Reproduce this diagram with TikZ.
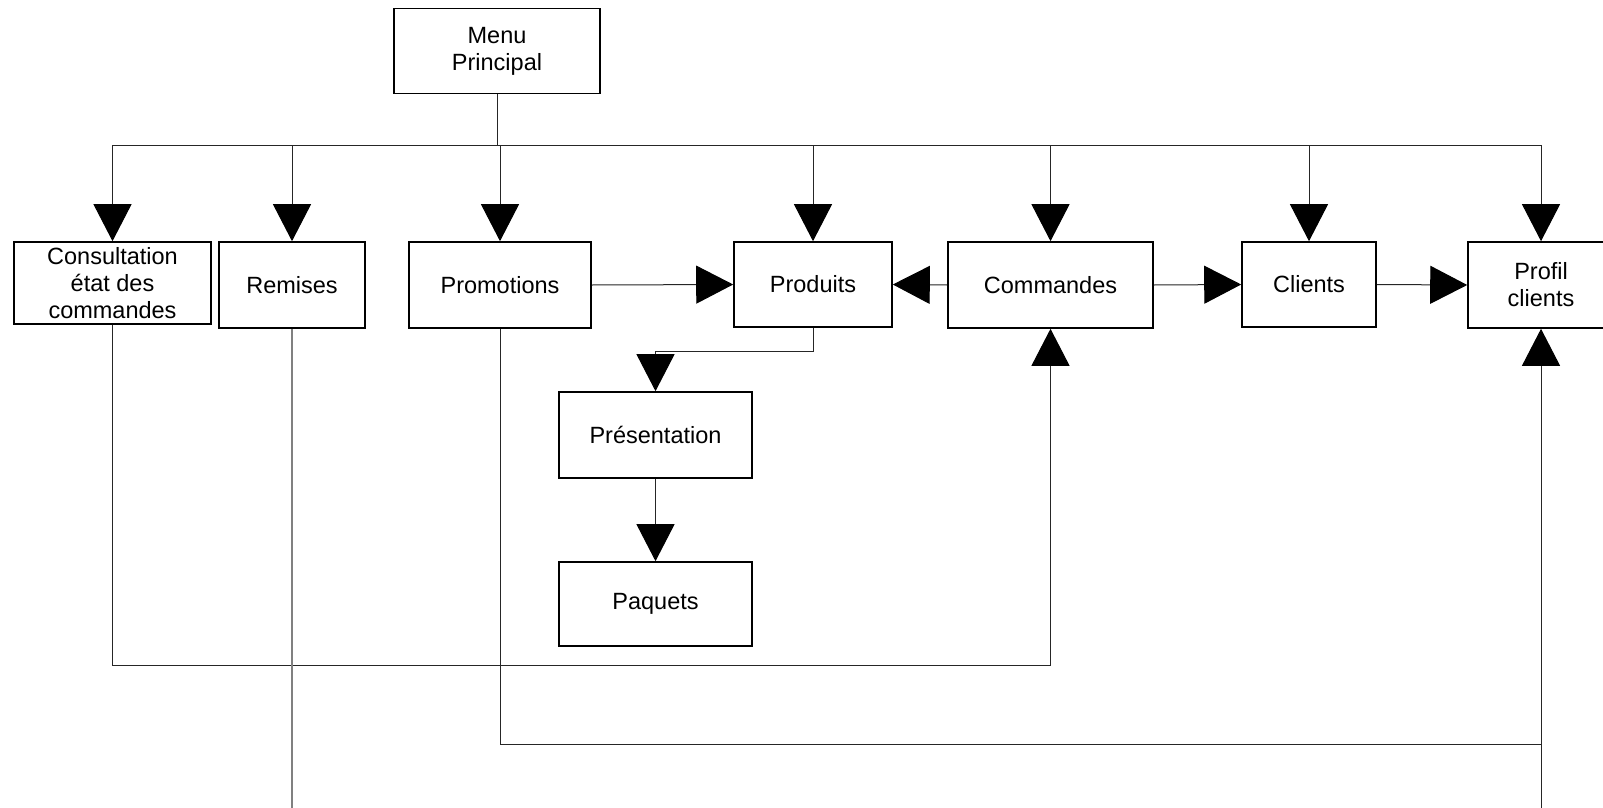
\documentclass[tikz,border=0pt]{standalone}
\usepackage{fontspec}
\setmainfont{Liberation Sans}
\usetikzlibrary{arrows.meta}

\tikzset{
  box/.style={draw=black, line width=1.6pt, fill=white, inner sep=0pt,
    align=center, font=\fontsize{23.5}{27}\selectfont},
  link/.style={draw=black!85, line width=1pt},
  fwd/.style={link, -{Triangle[length=37pt, width=38pt, color=black]}},
  faint/.style={draw=black!50, line width=1.3pt}
}

\begin{document}
\begin{tikzpicture}[x=1pt, y=1pt]
  \clip (0,0) rectangle (1603,-808);
  \fill[white] (0,0) rectangle (1603,-808);

  % boxes
  \node[box, minimum width=206pt, minimum height=85pt] (menu) at (497,-51) {Menu\\Principal};
  \node[box, minimum width=197pt, minimum height=82pt] (cons) at (112.5,-283) {Consultation\\état des\\commandes};
  \node[box, minimum width=146pt, minimum height=86pt] (rem) at (292,-285) {Remises};
  \node[box, minimum width=182pt, minimum height=86pt] (promo) at (500,-285) {Promotions};
  \node[box, minimum width=158pt, minimum height=85pt] (prod) at (813,-284.5) {Produits};
  \node[box, minimum width=205pt, minimum height=86pt] (cmd) at (1050.5,-285) {Commandes};
  \node[box, minimum width=134pt, minimum height=85pt] (cli) at (1309,-284.5) {Clients};
  \node[box, minimum width=146pt, minimum height=86pt] (prof) at (1541,-285) {Profil\\clients};
  \node[box, minimum width=193pt, minimum height=86pt] (pres) at (655.5,-435) {Présentation};
  \node[box, minimum width=193pt, minimum height=84pt] (paq) at (655.5,-604) {Paquets};

  % routing levels
  \coordinate (bus) at (0,-145);
  \coordinate (prodbend) at (0,-351);
  \coordinate (loopA) at (0,-665);
  \coordinate (loopB) at (0,-744);
  \coordinate (edge) at (0,-808);

  % main menu distribution bus
  \draw[link] (menu.south) -- (menu.south |- bus);
  \draw[link] (cons.north |- bus) -- (prof.north |- bus);
  \foreach \n in {cons, rem, promo, prod, cmd, cli, prof}
    \draw[fwd] (\n.north |- bus) -- (\n.north);

  % horizontal links between modules
  \draw[fwd] (promo.east) -- (prod.west);
  \draw[fwd] (cmd.west) -- (prod.east);
  \draw[fwd] (cmd.east) -- (cli.west);
  \draw[fwd] (cli.east) -- (prof.west);

  % products branch
  \draw[fwd] (prod.south) -- (prod.south |- prodbend) -- (pres.north |- prodbend) -- (pres.north);
  \draw[fwd] (pres.south) -- (paq.north);

  % return loops
  \draw[fwd] (cons.south) -- (cons.south |- loopA) -- (cmd.south |- loopA) -- (cmd.south);
  \draw[fwd] (promo.south) -- (promo.south |- loopB) -- (prof.south |- loopB) -- (prof.south);
  \draw[faint] (rem.south) -- (rem.south |- edge);
  \draw[link] (prof.south |- edge) -- (prof.south |- loopB);
\end{tikzpicture}
\end{document}
